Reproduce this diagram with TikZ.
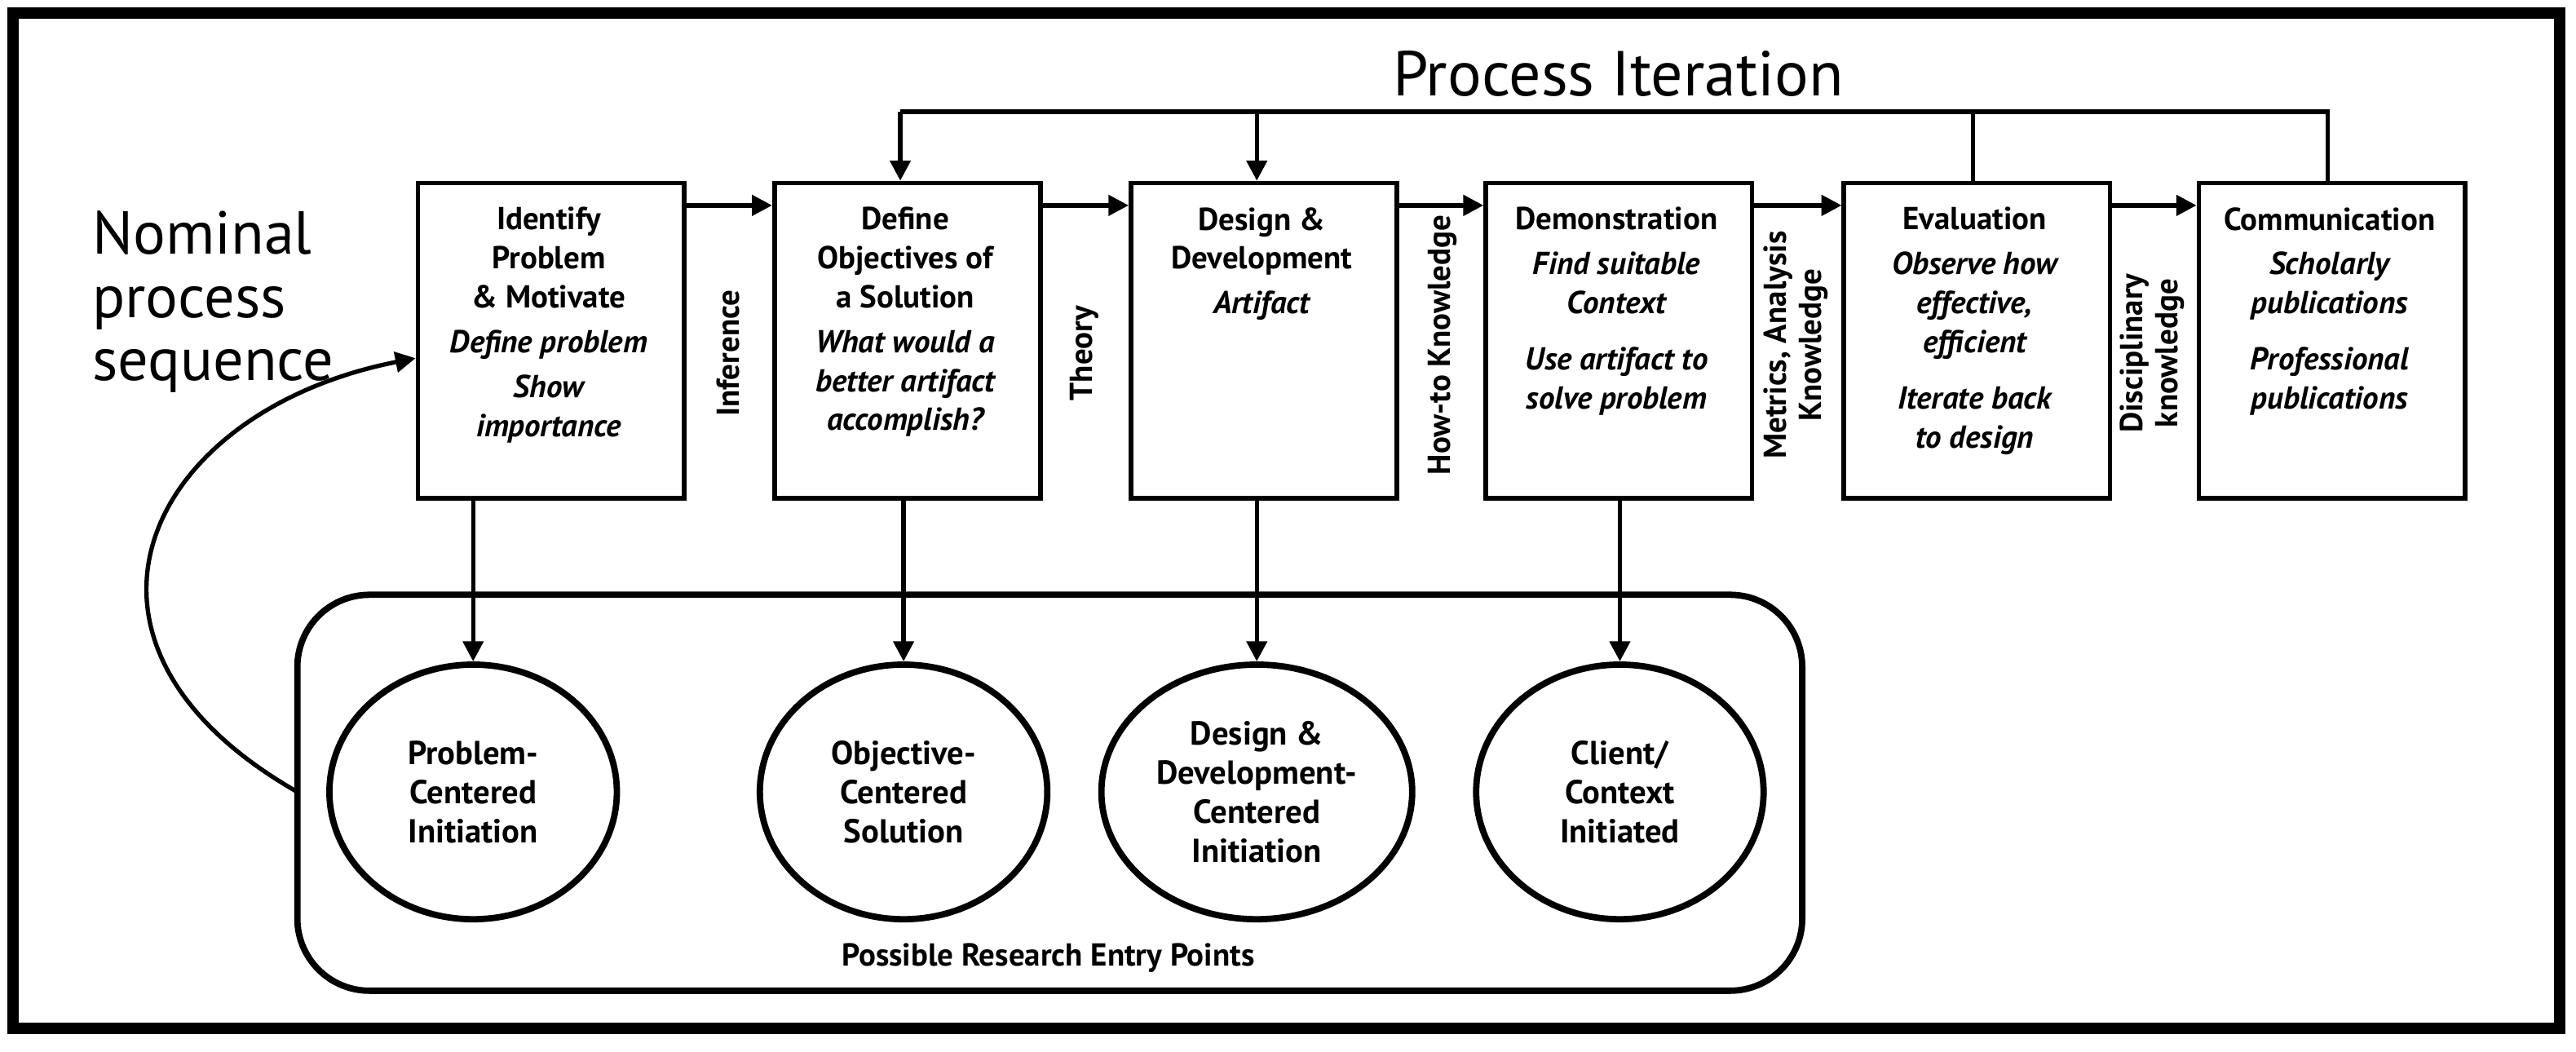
\documentclass[tikz,border=0pt]{standalone}
\usepackage{fontspec}
\setmainfont{PT Sans}
\usetikzlibrary{arrows.meta,shapes.geometric}
\begin{document}
\begin{tikzpicture}[x=0.02cm,y=-0.02cm,
  box/.style={draw,line width=1.6pt,minimum width=3.24cm,minimum height=3.84cm,anchor=north west,inner sep=0pt},
  txt/.style={align=center,font=\bfseries\fontsize{11}{13.5}\selectfont},
  vl/.style={rotate=90,align=center,font=\bfseries\fontsize{11}{12}\selectfont},
  ell/.style={draw,ellipse,line width=2.2pt,minimum width=3.5cm,minimum height=3.1cm,align=center,font=\bfseries\fontsize{11.5}{13.5}\selectfont},
  arr/.style={line width=1.5pt,-{Triangle[length=7pt,width=7pt]}},
  ln/.style={line width=1.5pt}]
\useasboundingbox (0,0) rectangle (1568,640);
\draw[line width=4pt] (8,8) rectangle (1558,626);
\node[font=\fontsize{22}{26}\selectfont] (title) at (985,45) {Process Iteration};
\node[font=\fontsize{21}{22}\selectfont,align=left,anchor=north west] (nom) at (50,122) {Nominal\\process\\sequence};
\foreach \n/\x in {b1/253,b2/470,b3/687,b4/903,b5/1121,b6/1337}
  \node[box] (\n) at (\x,110) {};
\node[txt,anchor=north] at (334,120) {Identify\\Problem\\\& Motivate\\[2pt]\itshape Define problem\\[2pt]\itshape Show\\\itshape importance};
\node[txt,anchor=north] at (551,120) {Define\\Objectives of\\a Solution\\[2pt]\itshape What would a\\\itshape better artifact\\\itshape accomplish?};
\node[txt,anchor=north] at (768,120) {Design \&\\Development\\[2pt]\itshape Artifact};
\node[txt,anchor=north] at (984,120) {Demonstration\\[2pt]\itshape Find suitable\\\itshape Context\\[6pt]\itshape Use artifact to\\\itshape solve problem};
\node[txt,anchor=north] at (1202,120) {Evaluation\\[2pt]\itshape Observe how\\\itshape effective,\\\itshape efficient\\[6pt]\itshape Iterate back\\\itshape to design};
\node[txt,anchor=north] at (1418,120) {Communication\\[2pt]\itshape Scholarly\\\itshape publications\\[6pt]\itshape Professional\\\itshape publications};
\node[vl] (l1) at (443,215) {Inference};
\node[vl] (l2) at (660,215) {Theory};
\node[vl] (l3) at (878,210) {How-to Knowledge};
\node[vl] (l4) at (1093,210) {Metrics, Analysis\\Knowledge};
\node[vl] (l5) at (1310,215) {Disciplinary\\knowledge};
\draw[arr] (b1.north east|-0,125) -- (b2.north west|-0,125);
\draw[arr] (b2.north east|-0,125) -- (b3.north west|-0,125);
\draw[arr] (b3.north east|-0,125) -- (b4.north west|-0,125);
\draw[arr] (b4.north east|-0,125) -- (b5.north west|-0,125);
\draw[arr] (b5.north east|-0,125) -- (b6.north west|-0,125);
\coordinate (t1) at (548,68); \coordinate (t2) at (765,68);
\coordinate (t3) at (1201,68); \coordinate (t4) at (1417,68);
\draw[ln] (b5.north-|t3) -- (t3);
\draw[ln] (b6.north-|t4) -- (t4) -- (t1);
\draw[arr] (t1) -- (t1|-b2.north);
\draw[arr] (t2) -- (t2|-b3.north);
\draw[line width=2.2pt,rounded corners=25] (181,362) rectangle (1097,603);
\node[ell] (e1) at (288,482) {Problem-\\Centered\\Initiation};
\node[ell] (e2) at (550,482) {Objective-\\Centered\\Solution};
\node[ell] (e3) at (765,482) {Design \&\\Development-\\Centered\\Initiation};
\node[ell] (e4) at (986,482) {Client/\\Context\\Initiated};
\node[font=\bfseries\fontsize{11}{13}\selectfont] (pre) at (638,583) {Possible Research Entry Points};
\draw[arr] (b1.south-|e1) -- (e1.north);
\draw[arr] (b2.south-|e2) -- (e2.north);
\draw[arr] (b3.south-|e3) -- (e3.north);
\draw[arr] (b4.south-|e4) -- (e4.north);
\coordinate (cs) at (181,482);
\draw[arr] (cs) .. controls (20,390) and (90,250) .. (b1.west|-0,218);
\end{tikzpicture}
\end{document}
